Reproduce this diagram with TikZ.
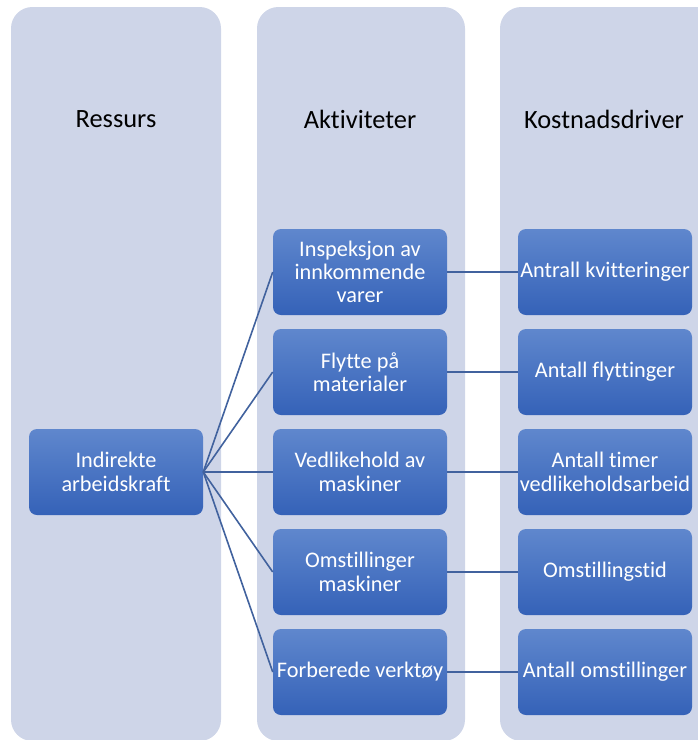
\documentclass[tikz,border=0pt]{standalone}
\usepackage{fontspec}
\setmainfont[Ligatures=NoCommon]{Carlito}
\definecolor{colfill}{HTML}{CED5E8}
\definecolor{boxtop}{HTML}{5F87CD}
\definecolor{boxbot}{HTML}{3562B8}
\definecolor{linec}{HTML}{41629E}
\begin{document}
\begin{tikzpicture}[x=0.75pt,y=-0.75pt,
  column/.style={fill=colfill, draw=none, rounded corners=16pt},
  header/.style={font=\fontsize{19.8}{22}\selectfont, text=black, inner sep=0pt, anchor=center},
  box/.style={rounded corners=6pt, top color=boxtop, bottom color=boxbot, draw=none,
    minimum width=130.5pt, minimum height=64.5pt, inner sep=0pt, text=white,
    align=center, font=\fontsize{16.7}{17.5}\selectfont},
  conn/.style={draw=linec, line width=1.2pt}]
\useasboundingbox (0,0) rectangle (698,740);
\clip (0,0) rectangle (698,740);
% columns
\path[column] (11,7) rectangle (221,741);
\path[column] (257,7) rectangle (465,741);
\path[column] (500,7) rectangle (730,741);
% headers
\node[header] (h1) at (116,119) {Ressurs};
\node[header] (h2) at (360,119) {Aktiviteter};
\node[header] (h3) at (604,119) {Kostnadsdriver};
% resource
\node[box] (ind) at (116,472) {Indirekte\\arbeidskraft};
% activities
\node[box] (a1) at (360,272) {Inspeksjon av\\innkommende\\varer};
\node[box] (a2) at (360,372) {Flytte på\\materialer};
\node[box] (a3) at (360,472) {Vedlikehold av\\maskiner};
\node[box] (a4) at (360,572) {Omstillinger\\maskiner};
\node[box] (a5) at (360,672) {Forberede verktøy};
% drivers
\node[box] (d1) at (605,272) {Antrall kvitteringer};
\node[box] (d2) at (605,372) {Antall flyttinger};
\node[box] (d3) at (605,472) {Antall timer\\vedlikeholdsarbeid};
\node[box] (d4) at (605,572) {Omstillingstid};
\node[box] (d5) at (605,672) {Antall omstillinger};
% connectors
\foreach \i in {1,...,5} {
  \draw[conn] (ind.east) -- (a\i.west);
  \draw[conn] (a\i.east) -- (d\i.west);
}
\end{tikzpicture}
\end{document}
